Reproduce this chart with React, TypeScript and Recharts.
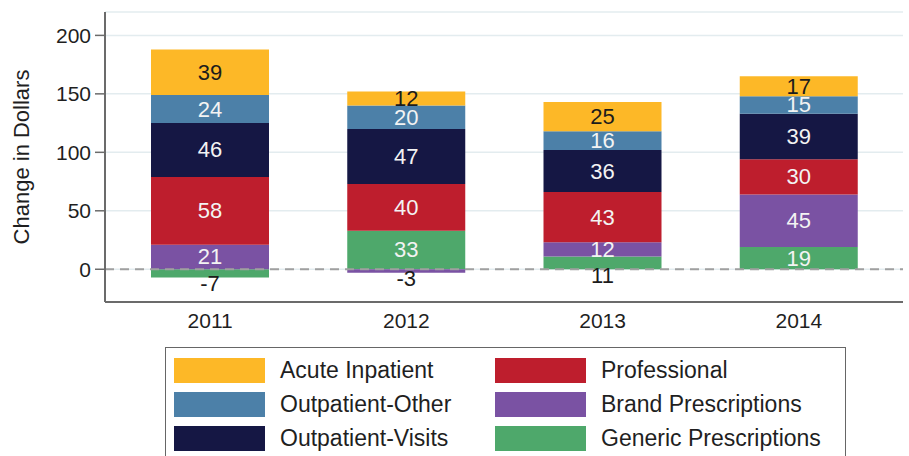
import { BarChart, Bar, XAxis, YAxis, CartesianGrid, ReferenceLine, LabelList } from 'recharts'

const years = ['2011', '2012', '2013', '2014']
const acuteInpatient = [39, 12, 25, 17]
const outpatientOther = [24, 20, 16, 15]
const outpatientVisits = [46, 47, 36, 39]
const professional = [58, 40, 43, 30]
const brandRx = [21, -3, 12, 45]
const genericRx = [-7, 33, 11, 19]
const yTicks = [0, 50, 100, 150, 200]

// stacking order bottom -> top
const series = [
  { key: 'generic', name: 'Generic Prescriptions', values: genericRx, color: '#4ea86b', darkText: false },
  { key: 'brand', name: 'Brand Prescriptions', values: brandRx, color: '#7a52a3', darkText: false },
  { key: 'professional', name: 'Professional', values: professional, color: '#be1e2d', darkText: false },
  { key: 'visits', name: 'Outpatient-Visits', values: outpatientVisits, color: '#151744', darkText: false },
  { key: 'other', name: 'Outpatient-Other', values: outpatientOther, color: '#4c80a8', darkText: false },
  { key: 'acute', name: 'Acute Inpatient', values: acuteInpatient, color: '#fdb827', darkText: true },
]
const legendCols = [['acute', 'other', 'visits'], ['professional', 'brand', 'generic']]

const data = years.map((year, i) => {
  const row: Record<string, any> = { year }
  series.forEach(s => { row[s.key] = s.values[i] })
  return row
})

const FONT = '"Liberation Sans", Arial, sans-serif'

const segLabel = (dark: boolean) => (props: any) => {
  const { x, y, width, height, value } = props
  const top = Math.min(y, y + height)
  const h = Math.abs(height)
  const outside = value < 0 || h < 13
  const cy = outside ? top + h + 6 : top + h / 2
  return (
    <text x={x + width / 2} y={cy} textAnchor="middle" dominantBaseline="central"
      fontFamily={FONT} fontSize={22} fill={outside || dark ? '#1c1c1c' : '#f3f3f3'}>
      {value}
    </text>
  )
}

export default function App() {
  const byKey = Object.fromEntries(series.map(s => [s.key, s]))
  return (
    <div style={{ position: 'relative', width: 909, height: 456, overflow: 'hidden', background: '#fff', fontFamily: FONT }}>
      <style>{'body{margin:0}'}</style>
      <BarChart width={909} height={340} data={data} stackOffset="sign" margin={{ top: 12, right: 6, left: 0, bottom: 0 }}>
        <CartesianGrid vertical={false} stroke="#e3ecef" strokeWidth={1.5} />
        <XAxis dataKey="year" height={38} padding={{ left: 7, right: 6 }} axisLine={{ stroke: '#6b6b6b', strokeWidth: 2 }}
          tickLine={false} tickSize={0} tickMargin={11} tick={{ fontSize: 21, fill: '#1f1f1f', fontFamily: FONT }} />
        <YAxis type="number" width={105} domain={[-28, 220]} ticks={yTicks} axisLine={{ stroke: '#6b6b6b', strokeWidth: 2 }}
          tickLine={{ stroke: '#6b6b6b', strokeWidth: 1.5 }} tickSize={10} tickMargin={4}
          tick={{ fontSize: 21, fill: '#1f1f1f', fontFamily: FONT }}
          label={{ value: 'Change in Dollars', angle: -90, position: 'insideLeft', dx: 16, style: { textAnchor: 'middle', fontSize: 22, fill: '#1f1f1f', fontFamily: FONT } }} />
        <ReferenceLine y={0} stroke="#a0a0a0" strokeWidth={2} strokeDasharray="9 6" />
        {series.map(s => (
          <Bar key={s.key} dataKey={s.key} name={s.name} stackId="a" fill={s.color} barSize={118} isAnimationActive={false}>
            <LabelList dataKey={s.key} content={segLabel(s.darkText)} />
          </Bar>
        ))}
      </BarChart>
      <div style={{ position: 'absolute', left: 165, top: 347, width: 681, height: 120, border: '1.5px solid #666', boxSizing: 'border-box' }}>
        {legendCols.map((col, ci) => (
          <div key={ci} style={{ position: 'absolute', left: ci === 0 ? 8 : 329, top: 5 }}>
            {col.map(k => (
              <div key={k} style={{ display: 'flex', alignItems: 'center', height: 34 }}>
                <div style={{ width: 91, height: 25, background: byKey[k].color }} />
                <span style={{ marginLeft: 15, fontSize: 23, color: '#1f1f1f' }}>{byKey[k].name}</span>
              </div>
            ))}
          </div>
        ))}
      </div>
    </div>
  )
}
